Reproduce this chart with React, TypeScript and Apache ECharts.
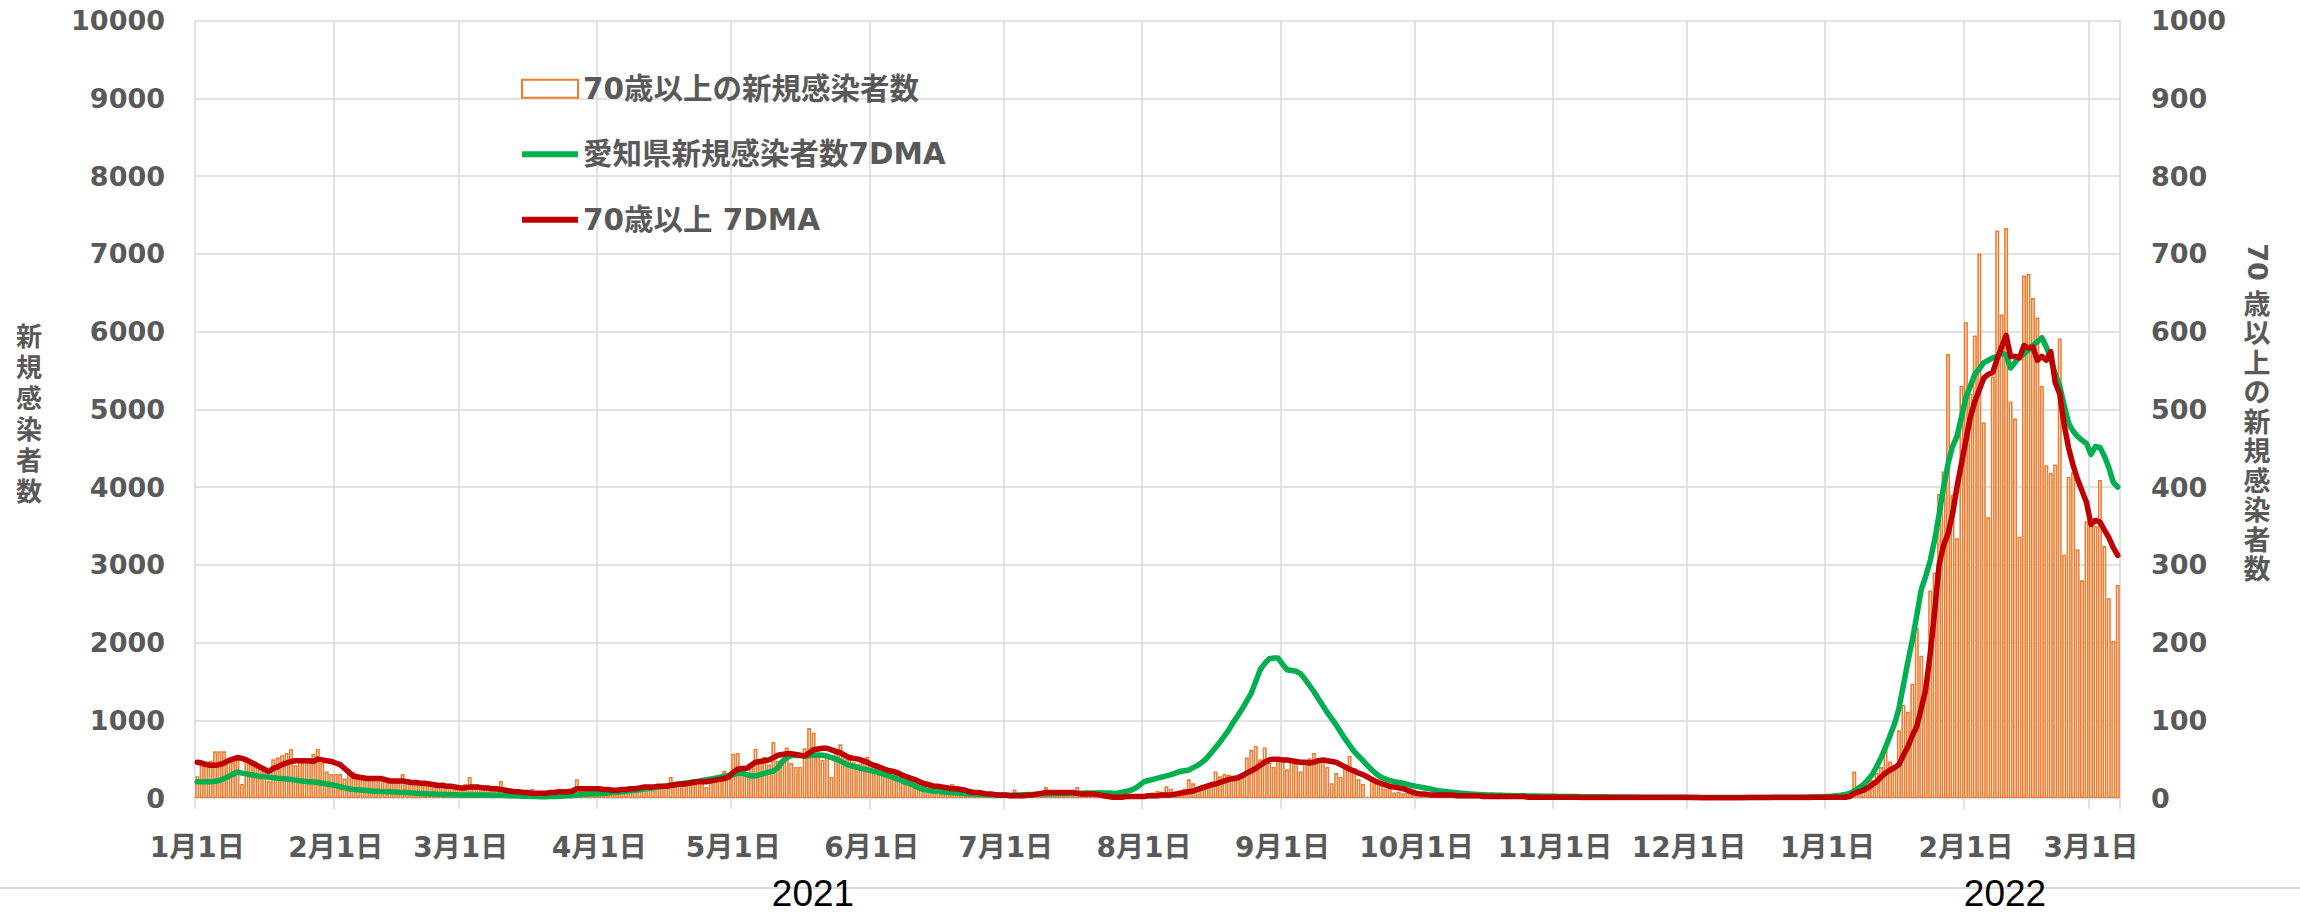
import React, { useEffect, useRef } from "react";
import * as echarts from "echarts";

// ---- categories: one per day, 2021-01-01 .. 2022-03-07 ----
const START_DATE = "2021-01-01";
const DAY_COUNT = 431;
const YEAR_LABELS = ["2021", "2022"];

// ---- 70歳以上の新規感染者数 (daily, right axis) ----
const b21Jan = [28,42,46,48,60,60,60,47,46,50,18,50,44,47,42,38,22,50,52,55,58,63,42,48,50,48,57,63,45,34,31];
const b21Feb = [31,31,25,33,33,28,25,25,24,27,24,22,22,22,20,31,22,20,18,18,17,20,19,17,20,15,14,12];
const b21Mar = [12,18,27,15,13,12,12,11,10,22,10,8,9,8,7,6,12,6,7,8,7,6,12,6,8,9,24,15,14,13,12];
const b21Apr = [12,13,8,10,13,12,10,14,15,14,17,14,10,16,17,18,27,15,16,18,20,23,22,24,14,20,25,25,35,28];
const b21May = [57,58,34,30,42,63,47,53,43,72,48,48,65,45,40,40,64,90,84,57,49,55,27,58,69,57,50,46,44,45,53];
const b21Jun = [35,45,38,35,36,28,32,25,28,22,20,18,22,15,14,10,17,12,18,12,10,8,7,8,6,5,5,5,4,6];
const b21Jul = [4,5,11,4,4,4,5,5,6,14,6,8,7,6,5,5,14,7,6,5,5,4,3,4,2,3,4,5,3,4,3];
const b21Aug = [4,5,7,9,8,15,12,8,10,12,24,19,14,17,18,15,34,28,31,30,23,28,27,52,62,67,50,65,45,40,48];
const b21Sep = [49,37,49,45,34,47,51,58,49,47,40,19,32,27,40,54,36,24,18,2,23,19,21,12,15,7,8,6,7,5];
const b21Oct = [5,4,4,3,5,3,3,3,2,6,3,2,3,2,2,2,2,1,2,2,1,2,1,1,1,1,2,1,1,1,1];
const b21Nov = [1,1,1,1,1,0,1,1,0,1,1,0,1,1,0,1,1,1,0,0,1,1,0,1,1,0,0,1,0,1];
const b21Dec = [0,0,1,0,0,0,1,0,1,0,0,1,0,0,1,0,1,1,0,0,1,0,1,1,0,1,1,2,1,1,2];
const b22Jan = [2,1,2,3,2,4,34,10,17,23,23,32,40,62,47,36,87,120,111,147,219,183,150,267,290,391,420,571,390,334,530];
const b22Feb = [612,520,595,700,483,361,542,730,622,733,510,488,336,672,674,643,618,530,428,418,429,591,313,413,419,320,280,356];
const b22Mar = [359,350,409,324,257,202,274];

// ---- 愛知県新規感染者数7DMA (left axis) ----
const g21Jan = [210,208,208,210,215,225,250,275,305,335,320,310,300,290,280,275,268,262,255,250,245,237,230,222,215,210,205,200,190,180,170];
const g21Feb = [160,145,130,120,110,105,100,95,90,88,85,82,80,78,75,72,70,66,62,58,55,52,50,48,46,45,43,42];
const g21Mar = [40,40,39,39,38,38,37,36,35,34,31,30,28,26,24,22,20,18,17,17,18,20,22,25,28,32,38,44,48,50,52];
const g21Apr = [54,57,63,70,74,79,86,93,100,106,115,122,131,140,146,155,166,173,180,190,197,206,214,226,236,244,256,268,279,292];
const g21May = [300,315,320,300,283,285,300,318,335,345,390,470,520,545,550,545,540,545,550,552,550,540,520,500,475,445,420,405,390,375,362];
const g21Jun = [350,335,318,300,280,262,240,215,195,175,145,120,105,95,88,85,78,72,68,64,60,55,52,50,47,45,42,40,38,36];
const g21Jul = [35,36,38,40,42,44,46,48,50,52,53,54,55,56,57,58,60,62,63,64,65,66,65,63,62,64,72,85,100,125,165];
const g21Aug = [210,225,240,255,270,285,300,320,340,350,360,390,420,460,510,580,650,720,800,880,980,1060,1150,1250,1350,1500,1650,1730,1790,1800,1800];
const g21Sep = [1720,1650,1640,1630,1600,1530,1450,1370,1280,1190,1100,1020,940,850,760,680,600,540,480,420,360,310,270,245,225,210,200,190,175,160];
const g21Oct = [150,140,128,118,105,95,88,80,74,68,62,57,52,48,45,42,40,38,36,34,32,31,30,29,28,27,26,25,24,23,22];
const g21Nov = [21,20,20,19,18,18,17,17,16,16,15,15,14,14,13,13,12,12,12,11,11,11,10,10,10,10,9,9,9,9];
const g21Dec = [9,8,8,8,8,7,7,7,7,7,7,7,7,7,8,8,8,8,8,9,9,9,10,10,10,11,11,12,13,14,16];
const g22Jan = [20,22,28,35,45,60,90,130,170,230,300,400,520,650,800,950,1150,1450,1750,2030,2350,2680,2850,3050,3320,3650,4000,4300,4520,4650,4900];
const g22Feb = [5150,5300,5450,5520,5600,5630,5660,5680,5720,5700,5530,5600,5680,5710,5760,5820,5870,5920,5800,5650,5450,5300,5050,4820,4720,4650,4600,4560];
const g22Mar = [4420,4520,4510,4400,4250,4060,4000];

// ---- 70歳以上 7DMA (right axis) ----
const r21Jan = [46,45,43,42,42,43,45,48,50,52,51,49,46,43,40,37,34,38,40,43,45,47,48,48,48,48,47,50,49,48,47];
const r21Feb = [45,43,38,33,28,27,26,25,25,25,25,24,22,22,22,22,21,20,20,19,19,18,17,16,16,15,15,14];
const r21Mar = [13,13,14,14,14,13,13,12,12,11,10,9,8,8,7,7,6,6,6,6,7,7,8,8,8,9,12,12,12,12,12];
const r21Apr = [12,11,11,10,10,11,11,12,12,13,14,14,14,15,15,15,16,17,18,18,19,20,21,21,21,22,23,24,25,27];
const r21May = [33,37,38,38,42,46,47,48,49,52,55,56,57,57,56,55,54,58,62,63,64,64,62,60,58,55,52,51,50,48,46];
const r21Jun = [43,41,39,37,35,34,32,29,27,25,23,20,18,17,15,15,14,13,12,12,11,10,8,7,7,6,5,5,4,4];
const r21Jul = [4,3,3,3,3,4,4,5,6,7,7,7,7,7,7,7,6,5,5,5,5,4,3,2,1,1,1,2,2,2,2];
const r21Aug = [2,3,3,3,4,4,4,5,6,7,8,9,11,13,15,17,18,20,22,24,25,26,29,32,35,38,42,46,49,50,50];
const r21Sep = [49,49,48,47,46,46,45,46,48,49,48,47,46,43,40,37,35,32,30,27,24,21,19,17,15,14,13,12,10,8];
const r21Oct = [6,5,5,4,4,4,4,4,4,3,3,3,3,3,3,2,2,2,2,2,2,2,2,2,2,1,1,1,1,1,1];
const r21Nov = [1,1,1,1,1,1,0.8,0.8,0.8,0.8,0.7,0.7,0.7,0.7,0.7,0.6,0.6,0.6,0.6,0.6,0.6,0.6,0.5,0.5,0.5,0.5,0.5,0.5,0.5,0.5];
const r21Dec = [0.5,0.5,0.5,0.4,0.4,0.4,0.4,0.4,0.4,0.4,0.4,0.4,0.4,0.5,0.5,0.5,0.5,0.5,0.5,0.6,0.6,0.6,0.6,0.7,0.7,0.7,0.7,0.8,0.9,1.0,1.0];
const r22Jan = [1,1,1,1,1,2,6,8,10,13,17,21,27,32,36,39,43,55,66,80,92,115,140,185,240,300,325,340,365,400,430];
const r22Feb = [460,490,510,525,540,545,547,565,580,595,568,568,566,582,579,580,563,568,563,574,534,520,480,450,428,410,395,380];
const r22Mar = [352,357,355,345,335,322,312];

const bars70 = [...b21Jan, ...b21Feb, ...b21Mar, ...b21Apr, ...b21May, ...b21Jun, ...b21Jul, ...b21Aug, ...b21Sep, ...b21Oct, ...b21Nov, ...b21Dec, ...b22Jan, ...b22Feb, ...b22Mar];
const green7 = [...g21Jan, ...g21Feb, ...g21Mar, ...g21Apr, ...g21May, ...g21Jun, ...g21Jul, ...g21Aug, ...g21Sep, ...g21Oct, ...g21Nov, ...g21Dec, ...g22Jan, ...g22Feb, ...g22Mar];
const red7 = [...r21Jan, ...r21Feb, ...r21Mar, ...r21Apr, ...r21May, ...r21Jun, ...r21Jul, ...r21Aug, ...r21Sep, ...r21Oct, ...r21Nov, ...r21Dec, ...r22Jan, ...r22Feb, ...r22Mar];

const NAME_BAR = "70歳以上の新規感染者数";
const NAME_GREEN = "愛知県新規感染者数7DMA";
const NAME_RED = "70歳以上 7DMA";

const ORANGE = "#ED7D31";
const GREEN = "#00B050";
const RED = "#C00000";
const GREY_TEXT = "#595959";
const GRID = "#d9d9d9";
const FONT = "'DejaVu Sans', 'Noto Sans CJK JP', sans-serif";

function buildDates(): string[] {
  const [y, m, d] = START_DATE.split("-").map(Number);
  const out: string[] = [];
  for (let i = 0; i < DAY_COUNT; i++) {
    const dt = new Date(Date.UTC(y, m - 1, d + i));
    const mm = String(dt.getUTCMonth() + 1).padStart(2, "0");
    const dd = String(dt.getUTCDate()).padStart(2, "0");
    out.push(`${dt.getUTCFullYear()}-${mm}-${dd}`);
  }
  return out;
}

export default function App() {
  const ref = useRef<HTMLDivElement>(null);
  useEffect(() => {
    document.body.style.margin = "0";
    const chart = echarts.init(ref.current!, undefined, { renderer: "svg" });
    const categories = buildDates();
    const isMonthStart = (i: number) => categories[i] !== undefined && categories[i].endsWith("-01");
    const monthLabel = (v: string) => {
      const [, mm, dd] = v.split("-").map(Number);
      return `${mm}月${dd}日`;
    };
    const plain = (v: number) => String(v);
    const axisFont = { color: GREY_TEXT, fontSize: 27, fontWeight: "bold" as const, fontFamily: FONT };

    chart.setOption({
      animation: false,
      backgroundColor: "#ffffff",
      grid: { left: 195, right: 180, top: 20.5, bottom: 118, containLabel: false },
      legend: {
        orient: "vertical",
        left: 521,
        top: 74,
        padding: 0,
        itemWidth: 56,
        itemHeight: 18,
        itemGap: 36,
        selectedMode: false,
        textStyle: { color: GREY_TEXT, fontSize: 29.5, fontWeight: "bold", fontFamily: FONT, lineHeight: 18 },
        data: [
          { name: NAME_BAR, icon: "rect", itemStyle: { color: "#ffffff", borderColor: ORANGE, borderWidth: 2 } },
          { name: NAME_GREEN, icon: "path://M0,0H56V6H0Z", itemStyle: { color: GREEN } },
          { name: NAME_RED, icon: "path://M0,0H56V6H0Z", itemStyle: { color: RED } },
        ],
      },
      xAxis: {
        type: "category",
        data: categories,
        boundaryGap: true,
        axisLine: { show: true, lineStyle: { color: GRID, width: 1.5 } },
        axisTick: { show: true, interval: (i: number) => isMonthStart(i), length: 11, lineStyle: { color: GRID, width: 1.5 } },
        axisLabel: { ...axisFont, fontSize: 28, interval: (i: number) => isMonthStart(i), formatter: monthLabel, margin: 35 },
        splitLine: { show: true, interval: (i: number) => isMonthStart(i), lineStyle: { color: GRID, width: 1.5 } },
      },
      yAxis: [
        {
          type: "value",
          min: 0,
          max: 10000,
          interval: 1000,
          position: "left",
          axisLine: { show: false },
          axisTick: { show: false },
          axisLabel: { ...axisFont, margin: 30, formatter: plain },
          splitLine: { show: true, lineStyle: { color: GRID, width: 1.5 } },
        },
        {
          type: "value",
          min: 0,
          max: 1000,
          interval: 100,
          position: "right",
          axisLine: { show: false },
          axisTick: { show: false },
          axisLabel: { ...axisFont, margin: 31, formatter: plain },
          splitLine: { show: false },
        },
      ],
      series: [
        {
          name: NAME_BAR,
          type: "bar",
          yAxisIndex: 1,
          data: bars70,
          barCategoryGap: "10%",
          itemStyle: { color: "#ffffff", borderColor: ORANGE, borderWidth: 1.6 },
        },
        {
          name: NAME_GREEN,
          type: "line",
          yAxisIndex: 0,
          data: green7,
          symbol: "none",
          lineStyle: { color: GREEN, width: 5.5, cap: "round", join: "round" },
          itemStyle: { color: GREEN },
        },
        {
          name: NAME_RED,
          type: "line",
          yAxisIndex: 1,
          data: red7,
          symbol: "none",
          lineStyle: { color: RED, width: 5.5, cap: "round", join: "round" },
          itemStyle: { color: RED },
        },
      ],
      graphic: [
        {
          type: "line",
          shape: { x1: 0, y1: 888, x2: 2300, y2: 888 },
          style: { stroke: GRID, lineWidth: 2 },
          z: 1,
        },
        {
          type: "text",
          x: 813,
          y: 893,
          z: 2,
          style: { text: YEAR_LABELS[0], fill: "#000000", font: "37px 'Liberation Sans', sans-serif", textAlign: "center", textVerticalAlign: "middle" },
        },
        {
          type: "text",
          x: 2005,
          y: 893,
          z: 2,
          style: { text: YEAR_LABELS[1], fill: "#000000", font: "37px 'Liberation Sans', sans-serif", textAlign: "center", textVerticalAlign: "middle" },
        },
        {
          type: "text",
          x: 29,
          y: 414,
          style: {
            text: "新\n規\n感\n染\n者\n数",
            fill: GREY_TEXT,
            font: `bold 26px ${FONT}`,
            lineHeight: 31,
            textAlign: "center",
            textVerticalAlign: "middle",
          },
        },
        {
          type: "text",
          x: 2257,
          y: 262,
          rotation: -Math.PI / 2,
          style: { text: "70", fill: GREY_TEXT, font: `bold 27px ${FONT}`, textAlign: "center", textVerticalAlign: "middle" },
        },
        {
          type: "text",
          x: 2257,
          y: 437,
          style: {
            text: "歳\n以\n上\nの\n新\n規\n感\n染\n者\n数",
            fill: GREY_TEXT,
            font: `bold 27px ${FONT}`,
            lineHeight: 29.5,
            textAlign: "center",
            textVerticalAlign: "middle",
          },
        },
      ],
    });
    return () => chart.dispose();
  }, []);
  return <div ref={ref} style={{ width: 2300, height: 916 }} />;
}
